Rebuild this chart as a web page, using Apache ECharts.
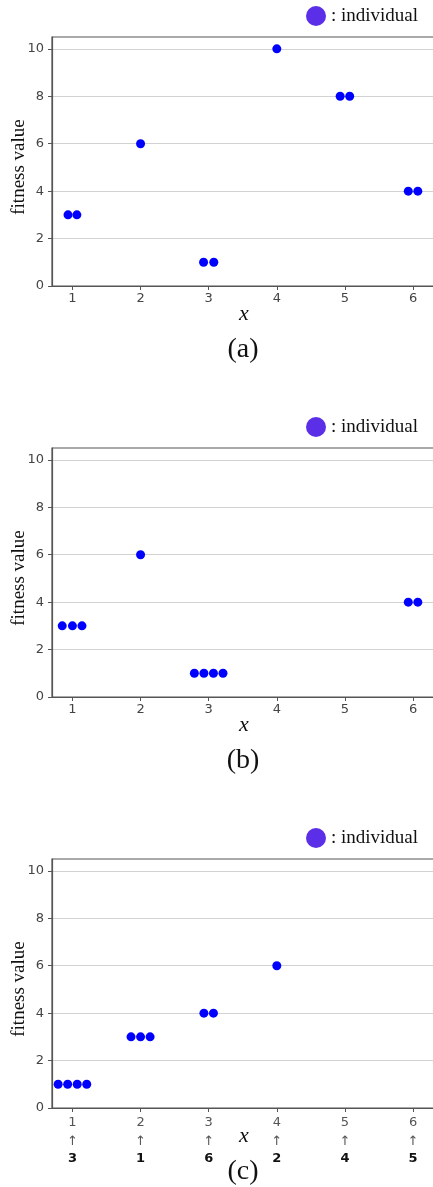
<!DOCTYPE html>
<html>
<head>
<meta charset="utf-8">
<script src="https://cdn.jsdelivr.net/npm/echarts@6/dist/echarts.min.js"></script>
<style>
  html, body { margin: 0; padding: 0; background: #fff; }
  #chart { width: 433px; height: 1187px; }
</style>
</head>
<body>
<div id="chart"></div>
<script>
  // individuals as [x, fitness]; x spread slightly where several share a value
  const pointsA = [[0.935, 3], [1.065, 3], [2, 6], [2.925, 1], [3.075, 1], [4, 10], [4.93, 8], [5.07, 8], [5.93, 4], [6.07, 4]];
  const pointsB = [[0.85, 3], [1, 3], [1.14, 3], [2, 6], [2.79, 1], [2.93, 1], [3.07, 1], [3.21, 1], [5.93, 4], [6.07, 4]];
  const pointsC = [[0.79, 1], [0.93, 1], [1.07, 1], [1.21, 1], [1.86, 3], [2, 3], [2.14, 3], [2.93, 4], [3.07, 4], [4, 6]];
  const xTicks = [1, 2, 3, 4, 5, 6];
  const yTicks = [0, 2, 4, 6, 8, 10];
  const rankMap = ["3", "1", "6", "2", "4", "5"]; // panel (c): sorted position -> original x
  const panelNames = ["(a)", "(b)", "(c)"];

  const panels = [pointsA, pointsB, pointsC];
  const tops = [37, 448, 859];
  const plotH = 249;

  const chart = echarts.init(document.getElementById("chart"));

  const grid = [], xAxis = [], yAxis = [], series = [], graphic = [];

  panels.forEach((pts, i) => {
    const top = tops[i];
    // plot runs past the right edge of the page, like the cropped original
    grid.push({
      left: 52, width: 390, top: top, height: plotH,
      outerBoundsMode: "none",
      show: true, borderColor: "#555", borderWidth: 1.2
    });

    const isC = i === 2;
    xAxis.push({
      type: "value", gridIndex: i, min: 0.7, max: 6.425,
      axisLine: { show: true, onZero: false, lineStyle: { color: "#555", width: 1.2 } },
      axisTick: { show: true, length: 4, customValues: xTicks, lineStyle: { color: "#555" } },
      splitLine: { show: false },
      axisLabel: {
        customValues: xTicks,
        margin: 6,
        color: "#444",
        fontFamily: "DejaVu Sans",
        fontSize: 13,
        formatter: isC
          ? v => `{n|${v}}\n{a|↑}\n{b|${rankMap[v - 1]}}`
          : v => String(v),
        rich: isC ? {
          n: { color: "#555", fontFamily: "DejaVu Sans", fontSize: 13, lineHeight: 18 },
          a: { color: "#555", fontFamily: "DejaVu Sans", fontSize: 13, lineHeight: 20 },
          b: { color: "#111", fontFamily: "DejaVu Sans", fontSize: 13, fontWeight: "bold", lineHeight: 14 }
        } : undefined
      }
    });

    yAxis.push({
      type: "value", gridIndex: i, min: 0, max: 10.5, interval: 2,
      axisLine: { show: true, lineStyle: { color: "#555", width: 1.2 } },
      axisTick: { show: true, length: 4, customValues: yTicks, lineStyle: { color: "#555" } },
      axisLabel: {
        customValues: yTicks,
        margin: 8,
        color: "#444",
        fontFamily: "DejaVu Sans",
        fontSize: 13,
        formatter: v => (v % 2 === 0 ? String(v) : "")
      },
      splitLine: { show: true, lineStyle: { color: "#d2d2d2", width: 1 } }
    });

    series.push({
      type: "scatter", xAxisIndex: i, yAxisIndex: i,
      data: pts, symbol: "circle", symbolSize: 9,
      itemStyle: { color: "#0000ff", opacity: 1 },
      silent: true
    });

    // legend marker
    graphic.push({
      type: "circle", shape: { cx: 316, cy: top - 21, r: 10 },
      style: { fill: "#5b2ee8" }
    });
    graphic.push({
      type: "text", x: 331, y: top - 21,
      style: {
        text: ": individual", fill: "#111",
        font: "19px 'Liberation Serif'", textAlign: "left", textVerticalAlign: "middle"
      }
    });
    // y axis title
    graphic.push({
      type: "text", x: 19, y: top + 130, rotation: Math.PI / 2,
      style: {
        text: "fitness value", fill: "#111",
        font: "19px 'Liberation Serif'", textAlign: "center", textVerticalAlign: "middle"
      }
    });
    // x axis title
    graphic.push({
      type: "text", x: 244, y: top + plotH + 28,
      style: {
        text: "x", fill: "#111",
        font: "italic 22px 'Liberation Serif'", textAlign: "center", textVerticalAlign: "middle"
      }
    });
    // panel caption
    graphic.push({
      type: "text", x: 243, y: top + 313,
      style: {
        text: panelNames[i], fill: "#111",
        font: "28px 'Liberation Serif'", textAlign: "center", textVerticalAlign: "middle"
      }
    });
  });

  chart.setOption({
    animation: false,
    grid, xAxis, yAxis, series, graphic
  });
</script>
</body>
</html>
